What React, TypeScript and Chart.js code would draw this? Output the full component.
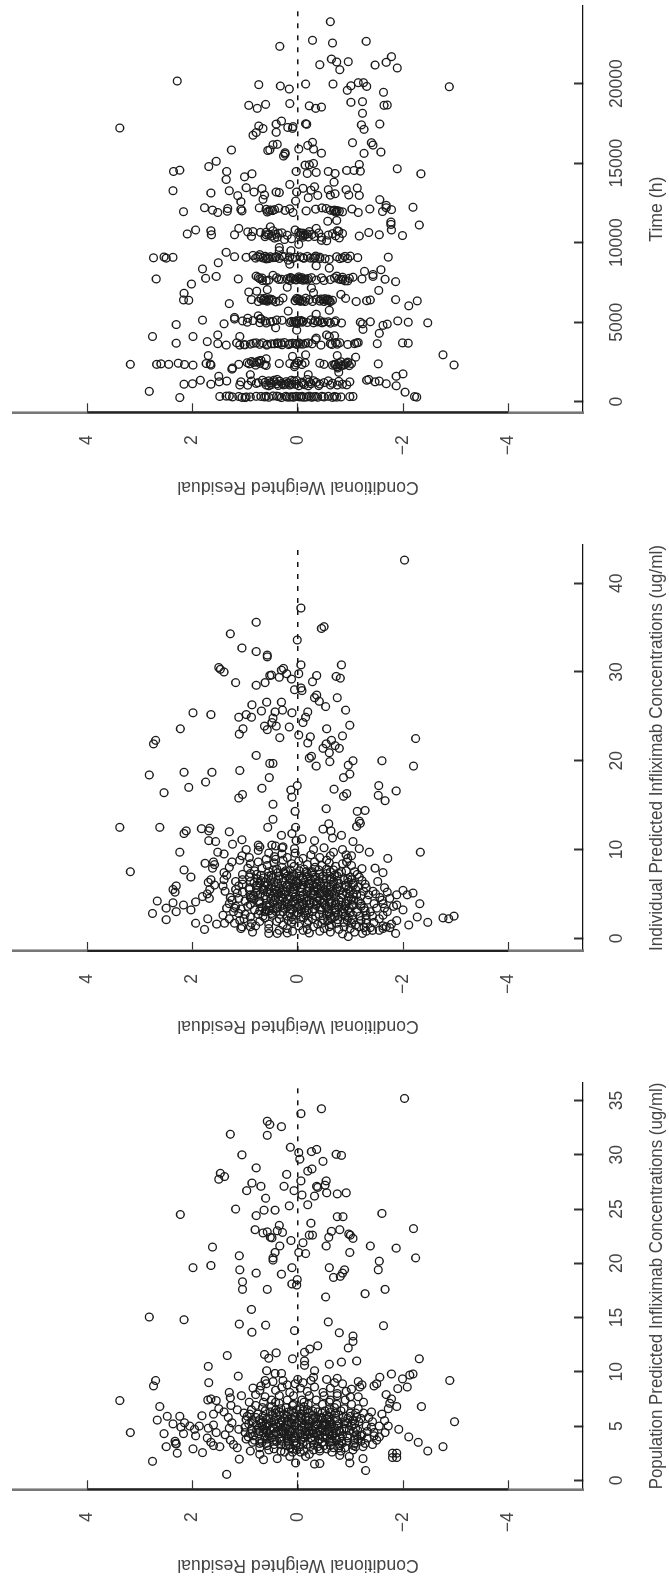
import React, { useEffect, useRef } from "react";
import Chart from "chart.js/auto";

type Pt = [number, number];

const residualTicks = [-4, -2, 0, 2, 4];
const timeTicks = [0, 5000, 10000, 15000, 20000];
const ipredTicks = [0, 10, 20, 30, 40];
const predTicks = [0, 5, 10, 15, 20, 25, 30, 35];

const residualTitle = "Conditional Weighted Residual";
const timeTitle = "Time (h)";
const ipredTitle = "Individual Predicted Infliximab Concentrations (ug/ml)";
const predTitle = "Population Predicted Infliximab Concentrations (ug/ml)";

const timeSparse: Pt[] = [
[23900,-.62],[22730,-.28],[22560,-.66],[22665,-1.3],[22350,.34],[21700,-1.78],[21550,-.64],[21365,-.74],[21385,-.96],[21345,-1.68],[21195,-.42],[21175,-1.47],[20990,-1.89],[20880,-.8],[20170,2.29],[19810,-2.88],[19940,.74],[19855,.33],[19665,.16],[19980,-.15],[19980,-.67],[20065,-1.15],[20065,-1.25],[19830,-1.31],[19870,-1.01],[19585,-.94],[19460,-1.63],[18640,.93],[18450,.77],[18700,.61],[18750,.15],[18610,-.22],[18450,-.34],[18530,-.45],[18830,-1.01],[18870,-1.23],[18640,-1.64],[18660,-1.7],[18140,-1.23],[17465,-1.56],[17410,-1.21],[17130,-1.26],[17215,3.38],[17480,-.15],[17450,-.17],[17650,.31],[17460,.41],[17340,.74],[17180,.66],[16945,.41],[17250,.19],[17190,.1],[17300,.09],[16930,.79],[16760,.85],[15830,1.26],[16190,.39],[16160,.47],[15800,.57],[15840,.53],[15660,.24],[15450,.27],[15570,.24],[15890,-.02],[16315,-.28],[16120,-.19],[15890,-.3],[15630,-.45],[16290,-1.04],[16290,-1.4],[16140,-1.43],[15700,-1.58],[15620,-1.26],[15120,1.55],[14790,1.69],[14560,2.24],[14480,2.36],[14480,1.35],[13975,1.36],[14335,.87],[14145,1.01],[13270,2.37],[13125,1.65],[13270,1.3],[13460,.98],[13190,.83],[13400,.68],[13000,.63],[12730,.66],[13190,.41],[13150,.35],[13665,.15],[13190,.02],[12620,.04],[12960,1.14],[12580,1.08],[14480,.03],[14880,-.14],[14900,-.22],[14985,-.3],[14355,-.18],[14420,-.35],[14480,-.58],[14355,-.71],[13810,-.69],[14545,-.93],[14545,-1.07],[14500,-1.19],[14920,-1.17],[14650,-1.89],[14335,-2.34],[13520,-.32],[13335,-.58],[12830,-.2],[12975,-.38],[12990,-.62],[13335,-.92],[13440,-1.13],[12975,-1.17],[13000,-.97],[12710,-1.56],[12350,-1.68],[12120,-1.37],[12230,-2.19],[13300,-.25],[13080,-.71],[13420,-.1],
[11113,-2.31],[9395,1.36],[8740,1.51],[8350,1.81],[7720,2.69],[7760,1.75],[7880,1.55],[7400,2.02],[6820,2.16],[6170,1.3],[7000,-1.54],[6340,-2.27],[6030,-2.11],[2950,-2.76],[2310,-2.97],[650,2.82],
[8200,-1.27],[8300,-1.58],[8000,-1.43],[6900,.93],[6950,.78],[7050,.58],[7200,.2],[7150,-.26],[6850,-.3],[6750,-.82],[8400,-.6],[8650,.15],[8550,-.35],[9500,.35],[9700,.35],[9900,-.02],[9250,.72],[9500,.13],[11000,.52],[11350,-.57],[11400,-.74],[11300,-1.77],[11150,-1.77],[5700,.18],[5500,-.35],[5750,-.6],[5400,.75],[4650,.42],[4500,.02],[4550,-1.24],[4800,-1.62],[4300,-1.55],[5300,1.2],[5250,.95],[5200,.7],[4200,1.52],[4100,1.1],[4000,-.35],[4100,-.6],[4150,-.7],[2900,1.7],[2700,.6],[2850,.1],[2950,-.15],[2900,-.75],[2800,-1.1],[1700,-.2],[1700,.9],[1600,1.5],[2050,1.25],[2200,-.75],[1850,-.78],[1750,-2],
];

const timeRow12000: Pt[] = [
[11950,2.17],[12200,1.77],[12050,1.62],[11900,1.52],[12150,1.33],[11980,1.34],[12100,1.08],[12000,1.06],[12190,.73],[12100,.6],[11990,.55],[12020,.48],[12170,.36],[12030,.24],[11900,.09],[12000,-.16],[12110,-.34],[12190,-.46],[12150,-.54],[12050,-.7],[12020,-.75],[11980,-.79],[12120,-1.03],[11900,-1.15],[11960,-1.61],[12080,-1.78],[12200,-1.68],[12040,-.62],[11920,-.72],[12080,.44],[12130,.15],[11940,-.85],[12010,-.68],[11970,-.73],[12060,.52],[11930,.58],
];
const timeRow10600: Pt[] = [
[10550,2.1],[10800,1.94],[10500,1.64],[10750,1.65],[10500,1.2],[10900,1.12],[10400,.88],[10650,.71],[10500,.6],[10750,.47],[10350,.39],[10800,.05],[10600,-.06],[10500,-.14],[10700,-.22],[10480,-.58],[10750,-.75],[10300,-.79],[10640,-1.35],[10500,-1.55],[10800,-1.78],[10450,-1.99],[10900,-.35],[10350,-.1],[10620,.3],[10200,.25],[10520,.55],[10380,.62],[10700,.85],[10600,-.1],[10450,-.1],[10550,-.18],[10150,-.45],[10350,-.45],[10720,-.78],[10580,-.85],[10420,-1.17],[10120,-.55],[10680,.95],[10530,.42],[10410,.5],[10600,.37],[10290,.44],[10470,-.04],[10640,-.02],[10360,-.2],[10520,-.27],[10430,-.72],[10570,-.66],[10250,.12],[10470,.2],[10660,.6],[10390,-.32],[10610,-.4],
];
const timeRow9080: Pt[] = [
[9050,2.74],[9100,2.54],[9030,2.5],[9080,2.37],[9120,1.2],[9080,.98],[9030,.8],[9100,.71],[9150,.62],[9000,.55],[9060,.47],[9130,.41],[9010,.35],[9110,.15],[9050,-.1],[9140,-.18],[9020,-.3],[9090,-.42],[9120,-.74],[9000,-.95],[9060,-1.14],[9090,-1.72],[9200,.85],[9150,.3],[8900,.18],[8950,-.6],[9000,-.42],[9050,-.85],[9160,-1],[9120,.52],[9000,.1],[9080,.05],[9030,-.24],[9160,-.34],[9040,.66],[9130,.76],[8980,.6],[9070,.42],[9020,-.12],[9110,-.05],[9060,-.33],[9000,-.8],[9140,-.9],[9070,.58],[9120,.25],[8990,-.52],
];
const timeRow7760: Pt[] = [
[7720,1.13],[7900,.79],[7620,.67],[7950,.47],[7700,.31],[7620,.15],[7850,-.02],[7680,-.14],[7800,-.26],[7620,-.5],[7900,-.74],[7700,-.86],[7760,-.98],[7720,-1.22],[7880,-1.43],[7700,-1.66],[7550,-1.86],[7820,.75],[7650,.55],[7800,.4],[7730,.2],[7680,.05],[7800,-.08],[7650,-.35],[7790,-.45],[7680,-.62],[7600,-.9],[7830,-1.05],[7650,-.18],[7760,-.02],[7600,.6],[7780,.68],[7730,.09],[7690,-.05],[7810,.14],[7640,-.1],[7750,-.2],[7710,-.78],[7830,-.85],[7600,-.95],[7740,.72],[7690,.36],[7780,.13],[7660,.03],[7720,-.12],[7790,-.7],[7680,-.82],
];
const timeRow6395: Pt[] = [
[6400,2.17],[6380,2.07],[6420,.88],[6300,.75],[6500,.63],[6380,.47],[6330,.35],[6500,.02],[6350,-.1],[6420,-.22],[6300,-.5],[6450,-.58],[6380,-.66],[6500,-.91],[6300,-1.11],[6350,-1.31],[6400,-1.38],[6420,-1.86],[6480,.7],[6370,.6],[6280,.42],[6510,-.15],[6300,-.28],[6440,-.35],[6330,-.42],[6480,-.52],[6290,-.62],[6400,.55],[6520,.28],[6460,-.02],[6350,.05],[6410,.64],[6320,.58],[6440,.5],[6360,-.04],[6420,0],[6300,-.14],[6400,-.56],[6350,-.6],[6460,-.44],[6380,.66],[6470,.54],[6310,-.05],[6430,-.48],[6370,-.54],
];
const timeRow5030: Pt[] = [
[4850,2.31],[5130,1.81],[4900,1.4],[5200,1.2],[5000,.96],[5230,.71],[5050,.47],[4980,.15],[5100,.02],[5050,-.1],[4960,-.3],[5100,-.42],[5030,-.58],[4950,-.83],[5000,-1.19],[4900,-1.23],[5030,-1.38],[4880,-1.7],[5080,-1.9],[5000,-2.1],[4960,-2.47],[5100,.85],[4950,.6],[5120,.3],[5040,.05],[4980,-.18],[5150,-.25],[5000,-.7],[5080,1.05],[5060,-.02],[4920,.02],[5140,.4],[5010,-.5],[5050,.12],[4990,.08],[5110,-.06],[5020,-.38],[4960,-.46],[5090,-.72],[5030,.52],[4970,.72],[5070,.62],[5000,-.08],[5100,-.33],[4940,-.62],
];
const timeRow3670: Pt[] = [
[4100,2.76],[3680,2.31],[4100,1.99],[3780,1.72],[3650,1.52],[3560,1.36],[3700,1.16],[3580,1],[3700,.79],[3560,.59],[3700,.39],[3650,.15],[3620,-.1],[3900,-.34],[3650,-.62],[3600,-.95],[3720,-1.15],[3650,-1.51],[3700,-1.99],[3680,-2.1],[3620,.9],[3700,.67],[3640,.5],[3720,.25],[3600,.02],[3700,-.2],[3560,-.44],[3720,-.72],[4200,-.55],[3620,-.75],[3700,-1.12],[3580,.3],[3660,.05],[3560,1.1],[3640,.44],[3690,.32],[3610,.58],[3680,.1],[3630,-.05],[3670,-.15],[3600,-.65],[3710,-.8],[3650,-1.08],[3590,1.02],[3680,.84],[3610,.72],[3650,.37],[3590,.17],[3700,-.02],[3640,-.27],
];
const timeRow2350: Pt[] = [
[2350,3.18],[2350,2.68],[2380,2.6],[2350,2.45],[2420,2.27],[2340,2.15],[2300,1.99],[2400,1.74],[2300,1.65],[2370,1.66],[2120,1.24],[2350,1.12],[2450,.96],[2530,.88],[2330,.63],[2400,.35],[2200,.06],[2450,-.14],[2350,-.5],[2300,-.66],[2330,-.9],[2400,-1.02],[2380,-1.53],[2500,.78],[2300,.8],[2600,.7],[2280,.6],[2400,.15],[2550,-.02],[2330,-.72],[2260,-.82],[2420,-.42],[2120,-.76],[2470,.84],[2380,.92],[2560,.74],[2310,.05],[2440,.02],[2340,-.08],[2400,-.78],[2290,-.86],[2490,-.95],[2410,.72],[2350,-.7],[2430,-.92],[2270,-.98],[2510,-.82],
];
const timeRow1175: Pt[] = [
[1100,2.16],[1130,2],[1350,1.85],[1100,1.65],[1250,1.49],[1300,1.35],[1250,1.08],[1050,1.1],[1150,.79],[1350,.67],[1000,.55],[1400,.39],[1100,.23],[1300,.07],[1000,-.02],[1400,-.18],[1200,-.5],[1050,-.75],[1250,-.99],[1350,-1.31],[1250,-1.47],[1130,-1.68],[1600,-1.87],[1000,-1.87],[1300,.88],[1050,.6],[1250,.45],[1150,.3],[1350,.12],[1050,.15],[1220,-.35],[1050,-.62],[1100,-.85],[1350,.45],[1200,.75],[1000,-.2],[1400,-1.35],[1300,-1.55],[1150,-.1],[1320,-.3],[1080,.5],[1220,.62],[1120,.4],[1290,.34],[1060,.27],[1180,.18],[1090,.04],[1230,-.08],[1130,-.25],[1010,-.4],[1160,-.66],[1280,-.78],[1060,-.93],[1040,.95],[1310,.55],[1190,.52],[1020,.37],[1260,.22],[1110,.11],[1330,.02],[1070,-.13],[1240,-.22],[1110,-.42],[1310,-.58],
];
const timeRow315: Pt[] = [
[260,2.24],[330,1.48],[350,1.36],[300,1.24],[330,1.12],[260,1],[340,.79],[300,.63],[360,.47],[260,.31],[320,.11],[300,-.06],[350,-.22],[280,-.38],[340,-.58],[290,-.74],[320,-.99],[600,-2.04],[320,-2.22],[290,-2.26],[360,1.3],[270,1.06],[300,.9],[330,.7],[350,.4],[290,.2],[340,.03],[280,-.12],[310,-.3],[340,-.46],[270,-.66],[300,-.82],[330,-1.05],[280,.55],[340,.23],[300,-.5],[320,.36],[290,.15],[340,-.08],[300,-.17],[280,-.26],[330,-.7],[300,.98],[340,.6],[280,.08],[310,-.02],[330,-.34],
];

const ipredSparse: Pt[] = [
[42.6,-2.03],[37.2,-.06],[35.6,.79],[34.3,1.28],[34.9,-.45],[35.1,-.5],[33.6,.01],[32.7,1.06],[32.3,.79],[31.9,.58],[31.7,.58],[30.5,1.5],[30.3,1.47],[30,1.4],[30.8,-.06],[30.8,-.83],[30.4,.27],[30.2,.31],[29.8,-.02],[29.8,.21],[29.6,.53],[29.65,.5],[29.4,.35],[29.2,.12],[29.6,-.36],[29.5,-.73],[29.3,-.81],[28.8,1.18],[28.5,.79],[28.8,.62],[28.9,-.28],[28,.06],[28.2,-.06],[27.9,-.08],[27.4,-.36],[27.1,-.32],[26.7,-.41],[27.1,-.75],[26.1,-.53],[26.6,.59],[26.3,.87],[26.6,.31],[25.7,-.91],[25.5,-.19],[25.6,.69],[25.5,.43],[25.7,.29],[25.4,.11],[25.4,1.99],[25.2,1.65],[24.9,1.12],[25.2,.98],[24.9,.88],[24.9,-.15],[24.3,-.1],[24.8,.47],[24.3,.49],[23.9,.63],[23.5,.58],[23.9,.41],[23.8,.16],[24,-.99],[23.6,-.55],[23.6,2.23],[23.6,1.04],[23,1.11],[22.9,-.02],[22.7,-.24],[22,-.19],[22.8,-.85],[22.6,.34],[22.5,-2.24],[22.3,-.64],[21.9,-.54],[21.7,-.71],[21.4,-.48],[21.4,-.79],[20.9,-.6],[22.3,2.7],[21.9,2.74],[20.6,.79],[20.3,-.22],[20.5,-.26],[19.9,-.61],[20,-1.05],[20,-1.6],[19.7,.53],[19.7,.47],[19.5,-.96],[19.4,-.35],[19.4,-2.2],[18.4,2.82],[18.7,2.16],[18.7,1.63],[18.9,1.1],[18.1,.54],[18.5,-.99],[18.1,-.87],
[17.6,1.75],[17,2.07],[16.4,2.54],[16.9,.68],[17.2,.01],[16.7,.13],[15.9,.11],[16.8,-.69],[16.3,-.93],[16,-.87],[16.2,1.05],[15.8,1.12],[17.2,-1.54],[16.1,-1.53],[15.5,-1.66],[16.6,-1.87],[15.1,.47],[14.3,.05],[14.6,-.54],[14.3,-1.13],[14.4,-1.28],[13.4,.47],[13.2,-1.17],[12.95,-1.19],[12.6,-1.12],[12.5,.57],[12.5,.04],[12.9,-.59],[12.3,-.48],[12.5,3.38],[12.5,2.62],[12.35,1.83],[12.4,1.67],[12.1,1.69],[12.1,2.12],[11.8,2.16],[12,1.3],[11.6,.31],[11.8,.11],[12.1,-.63],[11.6,-.83],[11.3,-.66],[11,1.69],[10.9,1.56],[11.1,1.06],[10.6,1.24],[10.5,.75],[11.2,-.08],[11,-.32],[10.9,-1.05],[10.5,.49],[11,.03],
[9.7,-2.33],[9.7,2.24],[9.7,-1.36],[10.1,-1.17],[9.7,1.52],[9.5,1.4],[10,.98],[10.3,.28],[10.1,.06],[9,-1.71],[8.45,1.76],[8.6,1.6],[7.5,3.18],[7.7,2.16],[6.9,2.03],[7.9,-1.47],[7.85,-1.22],[7.4,-1.62],[6.4,-1.52],[5.9,2.31],[5.5,2.37],[5.2,2.33],[4.2,2.67],[2.8,2.76],[3.4,2.5],[2.1,2.5],[4,2.37],[3,2.31],[3.75,2.17],[3.2,2.03],[4.1,1.94],[4.7,1.81],[2.2,1.71],[1.7,1.94],[1,1.77],[1.6,1.54],[1.7,1.39],[3.9,-2.32],[2.4,-2.27],[1.8,-2.47],[1.5,-2.11],[2.3,-2.76],[2.2,-2.87],[2.5,-2.97],[5.1,-2.19],[4.9,-2.08],[5.4,-2],[4.9,-1.88],[3.75,-1.88],[3.2,-2],[2,-1.88],[.55,-1.86],[1.3,-1.68],[.55,-1.23],[.2,-.96],[.55,.39],[.55,.55],[.7,.86],[1.3,1.06],
];
const ipredEdge: Pt[] = [
[6.6,1.65],[6.3,1.7],[6,1.58],[5.5,1.67],[5,1.72],[4.5,1.68],[7.9,1.62],[8.3,1.58],[7.4,1.4],[7.1,1.35],[6.6,1.4],[5.9,1.42],[5.3,1.38],[4.6,1.28],[3.9,1.3],[3.4,1.35],[3,1.22],[2.6,1.42],[2.2,1.3],[2,1.1],[1.3,.9],[1.1,1.08],[1.7,1.2],[8,1.3],[8.6,1.25],[9.3,1.06],[10.3,.72],[10.4,.42],[10.2,.3],[9.9,.75],[9.1,.92],[8.8,1.1],[10,-.3],[10.2,-.5],[9.7,-.68],[10,-.85],[9.4,-.92],[9,-.95],[8.6,-.93],[9.3,-1.02],[8.2,-1.02],[7.5,-1.08],[7.2,-1.13],[6.9,-1.17],[6.5,-1.22],[6.1,-1.28],[5.7,-1.3],[5.3,-1.43],[5,-1.48],[4.6,-1.56],[4.3,-1.6],[3.9,-1.62],[3.4,-1.65],[3,-1.7],[2.6,-1.62],[2.2,-1.55],[1.8,-1.45],[1.4,-1.62],[1.2,-1.75],[.9,-1.55],[.8,-1.3],[.7,-1.08],[.5,-.85],[.7,-.62],[.8,-.42],[.6,-.22],[.9,-.1],[.8,.1],[.6,.2],[.9,.35],[1.1,.55],[1.4,.8],[5.7,-1.65],[5.2,-1.7],[4.5,-1.75],[3.6,-1.82],[1.6,-1.78],[1.1,-1.62],[.9,-1.42],[1.2,-1.38],
];
const ipredBlob: Pt[] = [
[9.6,.55],[9.2,.44],[9.5,.3],[9.1,.2],[9.6,.05],[9,-.1],[9.4,-.25],[9.1,-.42],[8.8,-.55],[9.3,-.62],[8.6,.75],[8.9,.6],[8.5,.45],[8.8,.28],[8.4,.12],[8.7,-.02],[8.3,-.18],[8.6,-.32],[8.2,-.46],[8.5,-.6],[8.1,-.72],[8.4,-.85],[7.9,.95],[7.6,.82],[7.9,.68],[7.5,.55],[7.8,.4],[7.4,.26],[7.7,.14],[7.3,.02],[7.8,-.12],[7.4,-.26],[7.7,-.4],[7.3,-.55],[7.7,-.68],[7.3,-.78],[7.6,-.92],[7.2,1.05],[6.9,.92],[7.2,.78],[6.8,.65],[7.1,.5],[6.7,.36],[7,.2],[6.6,.1],[6.9,-.18],[6.6,-.33],[7,-.48],[6.6,-.62],[7,-.75],[6.6,-.88],[6.9,-1],
[6.4,1.18],[6.1,1.05],[6.4,.9],[6,.78],[6.3,.62],[5.9,.5],[6.2,.38],[5.8,.22],[6.1,.08],[5.7,-.05],[6.2,-.2],[5.8,-.35],[6.2,-.5],[5.8,-.62],[6.2,-.78],[5.8,-.92],[6.2,-1.05],[5.8,-1.15],[5.5,1.18],[5.2,1.05],[5.5,.92],[5.1,.8],[5.4,.65],[5,.52],[5.3,.4],[4.9,.25],[5.2,.1],[4.8,-.04],[5.3,-.18],[4.9,-.3],[5.3,-.45],[4.9,-.6],[5.3,-.72],[4.9,-.85],[5.3,-1],[4.9,-1.12],[5.3,-1.25],[4.9,-1.35],
[4.5,1.12],[4.2,1],[4.5,.88],[4.1,.74],[4.4,.6],[4,.46],[4.3,.34],[3.9,.2],[4.2,.06],[3.8,-.08],[4.3,-.22],[3.9,-.36],[4.3,-.5],[3.9,-.64],[4.3,-.78],[3.9,-.92],[4.3,-1.06],[3.9,-1.2],[4.3,-1.32],[3.9,-1.45],[3.6,1.18],[3.3,1.08],[3.6,.95],[3.2,.82],[3.5,.68],[3.1,.54],[3.4,.4],[3,.28],[3.3,.14],[2.9,0],[3.4,-.14],[3,-.28],[3.4,-.42],[3,-.56],[3.4,-.7],[3,-.84],[3.4,-.98],[3,-1.12],[3.4,-1.26],[3,-1.38],[3.4,-1.5],
[2.7,1],[2.4,.9],[2.7,.75],[2.3,.62],[2.6,.48],[2.2,.35],[2.5,.2],[2.1,.08],[2.4,-.06],[2,-.2],[2.5,-.34],[2.1,-.48],[2.5,-.62],[2.1,-.76],[2.5,-.9],[2.1,-1.04],[2.5,-1.18],[2.1,-1.3],[2.5,-1.42],[1.9,.72],[1.6,.55],[1.9,.4],[1.5,.28],[1.8,.12],[1.4,-.02],[1.7,-.18],[1.3,-.3],[1.7,-.46],[1.3,-.6],[1.7,-.74],[1.3,-.88],[1.7,-1.02],[1.3,-1.16],[1.7,-1.3],[1.1,.2],[1,-.18],[1.1,-.5],[1,-.78],[1.1,-1],
[7.5,-.28],[6.5,.52],[5.6,.14],[5.6,-.74],[4.7,.32],[4.6,-.55],[3.7,.6],[3.7,-.35],[3.7,-1.05],[2.8,.15],[2.8,-.6],[6.7,-.48],[5.6,.66],[4.7,-.98],[4.1,.1],[3.2,-.2],[5,.08],[6,-.1],[7,-.02],[8,.3],[4.4,-.12],[3.5,.2],[2.6,-.15],[5.5,-.5],[6.5,-.75],[4.6,.9],[3.8,-.72],[3.2,.6],[2.9,-1],[5.1,-.25],
];
const ipredCore: Pt[] = [
[8.9,.42],[8.2,.58],[7.7,.47],[7.1,.7],[6.3,.83],[5.7,.91],[5,.71],[4.4,.83],[3.8,.9],[3.1,.72],[2.5,.66],[8.1,.07],[7.6,.23],[7,.36],[6.4,.27],[5.8,.42],[5.1,.45],[4.5,.51],[3.9,.53],[3.3,.47],[2.7,.33],[2,.18],[8,-.33],[7.5,-.16],[6.8,-.1],[6.2,-.01],[5.5,.07],[4.9,-.1],[4.2,-.17],[3.6,-.04],[2.9,-.13],[2.2,-.28],[1.6,-.38],[7.8,-.55],[7.2,-.42],[6.5,-.25],[5.9,-.44],[5.2,-.55],[4.6,-.38],[4,-.47],[3.3,-.59],[2.7,-.41],[2,-.57],[1.5,-.64],[7.5,-.83],[6.8,-.64],[6.1,-.67],[5.4,-.81],[4.7,-.72],[4.1,-.83],[3.5,-.78],[2.8,-.87],[2.3,-.96],[1.8,-.88],[6.7,-.95],[6,-1.06],[5.5,-1.1],[4.8,-1.2],[4.2,-1.15],[3.6,-1.2],[3.1,-1.28],[2.6,-1.3],[2,-1.2],[1.5,-1.1],[1.2,-1.26],[8.4,.9],[7.3,.9],[6.6,1.05],[5.9,1.12],[5.1,1.15],[4.3,1.25],[3.4,1.2],[2.8,1.12],[2.2,1.02],[1.7,.88],[6.2,.16],[5.3,.23],[4.6,.16],[3.9,.04],[3.2,.1],[6.7,.15],[7.2,.08],[5.6,.34],[4.8,.62],[4.2,.72],[3.7,.3],[5.9,.62],[6.5,.7],[7,.55],[5.2,.58],[4.5,.28],[5.7,-.22],[6.4,-.4],[5,-.42],[4.4,-.62],[3.8,-.23],[5.4,-.3],[4.8,-.28],[6,-.3],[3.3,-.32],[4.1,-.3],[2.4,-.7],[6.9,-.33],[7.3,-.18],[5.5,-.62],[4.2,-.95],[3.5,-.55],[2.9,-.72],[5.1,-.92],[5.8,-.77],[6.3,-.96],
];
const ipredDense: Pt[] = [
[6.7,.77],[6.2,.72],[5.4,.77],[4.8,.84],[3.5,.55],[3,.41],[7.4,.38],[6.9,.47],[6,.57],[5.5,.55],[5,.36],[4.3,.44],[3.6,.38],[2.8,.5],[7.6,-.03],[7,.11],[6.5,.03],[6,.2],[5.4,.28],[4.7,.05],[4.1,.24],[3.4,.27],[2.6,.03],[7.1,-.29],[6.3,-.14],[5.9,.02],[5.2,-.07],[4.5,-.05],[3.9,-.11],[3.1,-.17],[2.3,-.11],[7.5,-.62],[6.7,-.55],[6.2,-.36],[5.6,-.38],[5,-.65],[4.3,-.42],[3.7,-.52],[3.2,-.44],[2.6,-.55],[7.1,-.7],[6.4,-.68],[5.8,-.55],[5.3,-.66],[4.6,-.82],[4,-.72],[3.3,-.88],[2.7,-.77],[2.2,-.64],[6.6,-1.02],[6,-.9],[5.6,-.97],[5,-1.05],[4.4,-1.02],[3.8,-1.03],[3.2,-.95],[2.6,-1.05],[2,-.94],[4.9,-.47],[5.5,.44],[4.4,.2],[6.1,-.22],[3.5,.02],[4.7,-.18],[5.7,.78],[4.9,.9],[3.9,.72],[3.3,-.07],[6.6,-.1],[7.3,.25],[4.2,-.37],[3.6,-.9],[5.2,.32],[4.6,.42],[6.3,.45],[3,.62],[2.4,.12],[5.8,.07],[4.4,.02],[5.6,-.08],[3.8,.12],[4.8,-.5],[5.3,-.32],[6.8,.28],[4,-.6],[3.2,-.72],
];

const predSparse: Pt[] = [
[35.2,-2.03],[34.25,-.45],[33.8,-.06],[33.1,.58],[32.8,.53],[32.6,.31],[31.9,1.28],[31.8,.58],[30.7,.14],[30.2,-.02],[29.6,-.04],[30.3,-.26],[30.5,-.36],[30,1.06],[30.05,-.73],[29.95,-.83],[29.4,-.48],[28.8,.79],[28.5,-.19],[28.7,-.27],[28.2,.21],[28.3,1.47],[28,1.39],[27.75,1.5],[27.6,-.06],[27.6,-.54],[27.2,-.52],[27.1,-.36],[27,-.38],[27.4,.87],[27.1,.7],[26.7,.97],[27.1,.26],[26.7,.07],[26.3,-.08],[26.2,-.32],[26.5,-.55],[26.4,-.75],[26.5,-.92],[26,.61],[25.3,.16],[25.4,-.19],[25,1.18],[24.9,.64],[24.9,.43],[24.4,.79],[24.5,2.23],[24.6,-1.6],[24.3,-.75],[24.3,-.86],[23.7,-.25],[23.5,.35],[23.1,.81],[22.8,.66],[22.9,.58],[23,.39],[22.85,.29],[22.4,.52],[22.35,.49],[22.6,-.22],[22.6,-.28],[22.95,-.64],[23.1,-.8],[22.7,-.97],[22.6,-1],[22.3,-1.05],[23.2,-2.2],[22.4,-.59],[22.1,.13],[21.9,-.1],[21.6,.34],[21.6,-.54],[21.5,1.62],[21.6,-1.38],[21.4,-1.87],[20.7,1.11],[21,.43],[21,-.02],[20.9,-.15],[21,-.99],[20.5,.47],[20.3,.47],[20.5,-2.24],[20.2,-1.55],[19.6,1.99],[19.8,1.65],[19.4,1.1],[19.1,.79],[19.6,.11],[19.6,-.6],[19.4,-1.53],[19.4,-.89],[19,.31],[18.7,-.68],[18.8,-.81],[19.1,-.85],[18.5,.01],[18.1,.11],[18,.02],[18.3,1.05],[17.6,1.05],[17.6,.58],[17.6,-1.66],[17.2,-1.28],[16.9,-.53],
[15.75,.88],[15.05,2.82],[14.8,2.16],[14.6,-.58],[14.4,1.11],[14.3,.61],[14.25,-1.63],[13.65,.87],[13.8,.06],[13.6,-.79],[13.3,-1.05],[12.8,-1.05],[12.4,-.38],[12.2,-.96],[12.1,-.23],[11.8,-.13],[11.6,.63],[11.75,.41],[11.25,.55],[11.5,1.34],[11.2,.1],[11.2,-2.31],[11,-.13],[10.6,-.13],[10.7,-.6],[10.9,-.83],[11,-1.12],[10.5,1.7],[10.1,.59],[10.1,-.32],[9.85,.43],[9.85,.31],[9.8,-1.78],[9.8,-2.19],[9.7,-2.13],[9.6,1.13],[9.35,-1.99],[9.5,-1.56],[9.2,-2.89],[9.2,2.7],[8.7,2.74],[9,1.69],[8.6,-2.08],[8.45,-1.9],[7.35,3.38],[8.1,1.3],[7.4,1.71],[6.8,2.62],[6.8,-2.35],[6.8,-1.88],[5.4,-2.98],[5.9,2.48],[5.9,2.24],[5.55,2.67],[4.4,3.18],[4.3,2.54],[5.2,2.37],[4.3,2.17],[4.1,1.94],[5.95,1.82],[3.35,2.31],[3.1,2.5],[2.5,2.29],[2.9,1.99],[2.55,1.81],[1.75,2.76],[.55,1.35],[1.95,1.11],[1.9,.65],[2,.39],[1.6,.04],[1.5,-.32],[1.55,-.42],[1.6,-.99],[2,-1.24],[.9,-1.29],[2.7,-2.47],[3.1,-2.76],[3.5,-2.29],[4,-2.11],[4.7,-1.92],[2.5,-1.8],[2.5,-1.88],[2.1,-1.8],[2.1,-1.88],[3.4,2.32],[3.6,2.33],[4.9,2.22],[5.3,2.15],[5,2.05],[4.7,1.96],[5,1.87],[4.8,1.7],[5.1,1.6],[4.4,1.55],[3.9,1.72],[3.5,1.65],[3.2,1.6],[3.1,1.48],[6.1,1.6],[6.6,1.5],[7.5,1.65],[7.35,1.55],
];
const predEdge: Pt[] = [
[9.3,-.55],[9.1,-1.15],[8.8,-1.22],[8.6,-1.18],[8.7,-1.45],[8.9,-1.5],[9,-.7],[8.9,-.85],[8.4,-1.02],[8.2,-.92],[9.4,-.75],[9.5,-.3],[9.2,-.25],[9,-.1],[9.3,0],[8.9,.05],[8.8,.2],[9.2,.28],[9.1,.47],[8.9,.6],[9.2,.62],[8.7,.7],[8.3,.72],[8.5,.85],[7.9,.8],[7.8,1.07],[7.6,1.28],[6.9,1.27],[6.3,1.4],[5.8,1.32],[5.3,1.25],[4.8,1.3],[4.2,1.38],[3.7,1.28],[3.3,1.22],[3,1.15],[2.7,.9],[2.4,.72],[2.9,.45],[2.6,.25],[2.2,.15],[2.6,-.05],[2.2,-.15],[2.6,-.65],[2.3,-.8],[2.2,-.98],[2.8,-1.05],[3.1,-1.24],[3.3,-1.42],[3.7,-1.5],[4,-1.55],[4.4,-1.66],[5,-1.72],[5.5,-1.65],[6.1,-1.6],[6.6,-1.72],[7.1,-1.75],[7.5,-1.78],[7.9,-1.68],[5.8,-1.35],[6.3,-1.4],[7.2,-1.25],[7.7,-1.15],
];
const predBlob: Pt[] = [
[8.3,.42],[8.6,.3],[8.1,.15],[8.5,-.05],[8.2,-.18],[8.6,-.32],[8.1,-.48],[8.5,-.62],[8,-.75],[7.7,.62],[7.4,.5],[7.8,.35],[7.4,.2],[7.8,.08],[7.4,-.08],[7.8,-.22],[7.4,-.35],[7.8,-.5],[7.4,-.62],[7.8,-.75],[7.4,-.9],[7.7,-1],[7.2,.92],[6.9,.8],[7.2,.65],[6.8,.5],[7.1,.35],[6.7,.22],[7,.08],[6.6,-.05],[7,-.2],[6.6,-.34],[7,-.47],[6.6,-.6],[7,-.74],[6.6,-.88],[7,-1.02],[6.6,-1.15],
[6.5,1.15],[6.2,1.02],[6.5,.88],[6.1,.76],[6.4,.62],[6,.48],[6.3,.35],[5.9,.2],[6.2,.08],[5.8,-.06],[6.2,-.2],[5.8,-.34],[6.2,-.46],[5.8,-.6],[6.2,-.72],[5.8,-.86],[6.2,-1],[5.8,-1.12],[6.2,-1.25],[5.6,.98],[5.3,.85],[5.6,.72],[5.2,.6],[5.5,.45],[5.1,.32],[5.4,.18],[5,.05],[5.3,-.08],[5,-.22],[5.4,-.36],[5,-.5],[5.4,-.62],[5,-.76],[5.4,-.9],[5,-1.02],[5.4,-1.16],[5,-1.3],[5.4,-1.42],[5,-1.55],
[4.7,1.12],[4.4,1],[4.7,.88],[4.3,.74],[4.6,.6],[4.2,.46],[4.5,.32],[4.1,.18],[4.4,.05],[4,-.1],[4.5,-.24],[4.1,-.38],[4.5,-.52],[4.1,-.65],[4.5,-.8],[4.1,-.94],[4.5,-1.06],[4.1,-1.2],[4.5,-1.32],[4.1,-1.45],[3.8,.98],[3.5,.86],[3.8,.72],[3.4,.6],[3.7,.46],[3.3,.32],[3.6,.18],[3.2,.04],[3.5,-.1],[3.1,-.24],[3.6,-.38],[3.2,-.5],[3.6,-.65],[3.2,-.8],[3.6,-.92],[3.2,-1.06],[3.6,-1.2],
[4.8,.45],[4.6,.15],[4.8,-.12],[4.6,-.42],[4.8,-.7],[4.6,-.98],[4.8,.75],[5.2,.12],[5.2,-.35],[5.2,-.65],[5.2,.42],[5.2,-.88],[4.3,.25],[4.3,-.05],[4.3,-.3],[4.3,-.6],[4.3,.55],[3.9,.35],[3.9,.05],[3.9,-.25],[3.9,-.55],[3.9,-.8],[5.7,.25],[5.7,-.15],[5.7,-.45],[5.7,-.72],[5.7,.55],[6.4,.12],[6.4,-.28],[6.4,-.52],[3,.72],[2.9,.1],[2.8,-.3],[2.9,-.55],[2.8,.55],[3,-.9],[2.6,.1],[7.2,-.12],[7.2,.42],[7.2,-.6],
];
const predCore: Pt[] = [
[6.1,.91],[5.5,.87],[4.9,1],[4.3,.9],[3.7,.82],[6.7,.67],[5.9,.66],[5.3,.7],[4.7,.64],[4,.62],[3.4,.72],[6.5,.42],[6,.34],[5.5,.3],[4.9,.38],[4.4,.42],[3.9,.5],[3.3,.45],[2.7,.32],[6.9,.1],[6.3,.18],[5.7,.12],[5.1,.2],[4.5,.12],[3.8,.2],[3.3,.16],[2.8,.02],[6.8,-.12],[6.1,-.05],[5.5,-.02],[4.9,-.08],[4.2,-.18],[3.7,-.06],[3.1,-.05],[2.4,-.22],[6.3,-.38],[5.6,-.28],[5.1,-.38],[4.4,-.35],[3.8,-.42],[3.3,-.3],[2.7,-.42],[6.7,-.7],[6,-.55],[5.3,-.5],[4.7,-.58],[4.2,-.52],[3.5,-.62],[3,-.68],[6.4,-.82],[5.7,-.95],[5.2,-.78],[4.6,-.78],[3.9,-.72],[3.4,-.84],[2.7,-.82],[6.2,-1.1],[5.5,-1.05],[4.8,-1.1],[4.2,-1.12],[3.7,-1.08],[3.1,-1.1],[5.7,-1.2],[4.9,-1.4],[4.4,-1.45],[3.9,-1.32],[3.4,-1.28],[4.5,.72],[5,.58],[5.7,.42],[4.2,.16],[4.7,-.02],[5.2,-.2],[5.9,-.16],[4.4,-.72],[5.1,-.6],[4,-.32],[3.6,.3],[5.4,.5],[4.8,.22],[6.6,.32],[4.1,.84],[5.9,.96],[4.5,-.42],[3.4,.02],[5.8,-.45],[4.9,-.3],[5.3,.02],[6.5,-.18],[3.9,-.95],[5.1,.78],[4.6,.52],[4.3,-.14],[5.5,-.75],[4.8,-.92],
];
const predDense: Pt[] = [
[5.8,.8],[5.2,.93],[4.6,.78],[4,.94],[3.5,.68],[6.3,.52],[5.6,.6],[5,.67],[4.4,.58],[3.8,.58],[3.2,.58],[6.1,.26],[5.5,.2],[4.9,.28],[4.4,.28],[3.8,.32],[3.2,.22],[6.5,.02],[5.9,.05],[5.3,.12],[4.7,.1],[4.1,.06],[3.6,.06],[3,.14],[6.4,-.1],[5.7,-.08],[5.1,-.13],[4.5,-.14],[3.9,-.13],[3.3,-.17],[2.7,-.12],[6,-.28],[5.5,-.2],[4.9,-.2],[4.3,-.22],[3.7,-.28],[3.1,-.38],[6.3,-.62],[5.7,-.38],[5.1,-.48],[4.6,-.28],[4,-.48],[3.5,-.46],[2.9,-.42],[6,-.78],[5.5,-.6],[4.9,-.62],[4.3,-.68],[3.7,-.74],[3.2,-.62],[5.9,-1],[5.3,-.95],[4.7,-.88],[4.1,-.85],[3.6,-.83],[3,-.78],[5.2,-1.08],[4.6,-1.14],[4.2,-1.22],[3.8,-1.14],[3.4,-1.08],[5.6,.08],[4.4,.14],[3.6,.4],[4.9,.48],[5.3,.36],[4.3,.36],[4.7,.3],[3.9,.12],[5,-.32],[4.5,-.6],[5.6,-.55],[4.2,-.42],[3.8,-.62],[4.8,-.45],[5.2,-.55],[4.4,.65],[5.4,.66],[4.1,.54],[6.2,.42],
];

const timeData = [...timeSparse, ...timeRow12000, ...timeRow10600, ...timeRow9080, ...timeRow7760, ...timeRow6395, ...timeRow5030, ...timeRow3670, ...timeRow2350, ...timeRow1175, ...timeRow315];
const ipredData = [...ipredSparse, ...ipredEdge, ...ipredBlob, ...ipredCore, ...ipredDense];
const predData = [...predSparse, ...predEdge, ...predBlob, ...predCore, ...predDense];

const fontFamily = '"Liberation Sans", Arial, sans-serif';
const inkColor = "#1c1c1c";

type PanelProps = {
  top: number;
  height: number;
  data: Pt[];
  ticks: number[];
  xRange: [number, number];
  title: string;
  rightPad: number;
  yAxisWidth: number;
  yTitlePad: number;
};

function Panel({ top, height, data, ticks, xRange, title, rightPad, yAxisWidth, yTitlePad }: PanelProps) {
  const ref = useRef<HTMLCanvasElement>(null);
  useEffect(() => {
    const chart = new Chart(ref.current!, {
      type: "scatter",
      data: {
        datasets: [
          {
            data: data.map(([x, y]) => ({ x, y })),
            borderColor: inkColor,
            backgroundColor: "rgba(0,0,0,0)",
            borderWidth: 1.35,
            pointRadius: 3.9,
            pointHoverRadius: 3.9,
          },
          {
            data: xRange.map((x) => ({ x, y: 0 })),
            showLine: true,
            pointRadius: 0,
            borderColor: "#111",
            borderWidth: 1.5,
            borderDash: [5, 7],
          },
          {
            data: [residualTicks[0], residualTicks[residualTicks.length - 1]].map((y) => ({ x: xRange[0], y })),
            showLine: true,
            pointRadius: 0,
            borderColor: "#222",
            borderWidth: 2,
            clip: false,
          },
        ],
      },
      options: {
        responsive: false,
        animation: false,
        layout: { padding: { top: 13, right: rightPad, left: 0, bottom: 0 } },
        plugins: { legend: { display: false }, tooltip: { enabled: false } },
        scales: {
          x: {
            type: "linear",
            min: xRange[0],
            max: xRange[1],
            afterBuildTicks: (s: any) => { s.ticks = ticks.map((value) => ({ value })); },
            afterFit: (s: any) => { s.height = 86; s.paddingLeft = 0; s.paddingRight = 0; },
            grid: { drawOnChartArea: false, drawTicks: true, tickLength: -9, tickColor: "#333", tickWidth: 2 },
            border: { display: true, color: "#111", width: 1.3 },
            ticks: { color: "#444", padding: 33, maxRotation: 0, minRotation: 0, autoSkip: false, font: { family: fontFamily, size: 17.5 }, callback: (v: any) => String(v) },
            title: { display: true, text: title, color: "#444", padding: { top: 0, bottom: 1.5 }, font: { family: fontFamily, size: 17.7 } },
          },
          y: {
            type: "linear",
            min: -5.42,
            max: 5.41,
            afterBuildTicks: (s: any) => { s.ticks = residualTicks.map((value) => ({ value })); },
            afterFit: (s: any) => { s.width = yAxisWidth; s.paddingTop = 0; s.paddingBottom = 0; },
            grid: { drawOnChartArea: false, drawTicks: true, tickLength: -9, tickColor: "#333", tickWidth: 1.2 },
            border: { display: true, color: "#777", width: 2.6 },
            ticks: { color: "#444", padding: 32, autoSkip: false, font: { family: fontFamily, size: 17.5 }, callback: (v: any) => String(v).replace("-", "\u2212") },
            title: { display: true, text: residualTitle, color: "#444", padding: { top: yTitlePad, bottom: 0 }, font: { family: fontFamily, size: 17.7 } },
          },
        },
      },
    } as any);
    return () => chart.destroy();
  }, []);
  return (
    <div
      style={{
        position: "absolute",
        left: 0,
        top: top + height,
        width: height,
        height: 669,
        transformOrigin: "top left",
        transform: "rotate(-90deg)",
        filter: "blur(0.45px)",
      }}
    >
      <canvas ref={ref} width={height} height={669} style={{ display: "block" }} />
    </div>
  );
}

export default function App() {
  return (
    <div style={{ position: "absolute", left: 0, top: 0, width: 669, height: 1580, overflow: "hidden", background: "#fff" }}>
      <Panel top={0} height={530} data={timeData} ticks={timeTicks} xRange={[-667, 24887]} title={timeTitle} rightPad={6} yAxisWidth={117.7} yTitlePad={32.5} />
      <Panel top={530} height={520} data={ipredData} ticks={ipredTicks} xRange={[-1.43, 44.3]} title={ipredTitle} rightPad={15} yAxisWidth={99} yTitlePad={13.5} />
      <Panel top={1050} height={530} data={predData} ticks={predTicks} xRange={[-0.83, 36.65]} title={predTitle} rightPad={32.7} yAxisWidth={90.7} yTitlePad={4.5} />
    </div>
  );
}
